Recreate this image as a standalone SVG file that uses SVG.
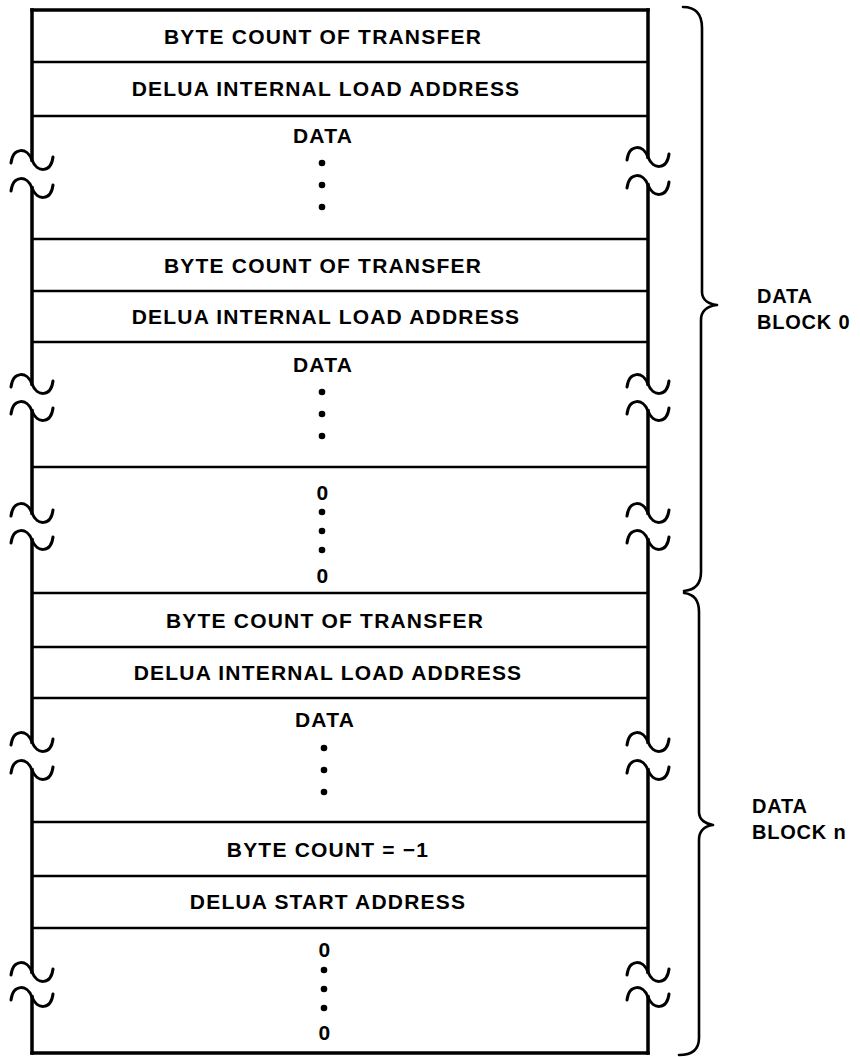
<svg xmlns="http://www.w3.org/2000/svg" width="860" height="1057" viewBox="0 0 860 1057">
<style>
.bg{fill:#fff}
.t{font-family:"Liberation Sans",Arial,Helvetica,sans-serif;font-weight:bold;font-size:21px;letter-spacing:1.2px;fill:#000;text-anchor:middle}
.lbl{font-family:"Liberation Sans",Arial,Helvetica,sans-serif;font-weight:bold;font-size:20px;letter-spacing:0.8px;fill:#000}
.h{stroke:#000;stroke-width:2.3;fill:none}
.w{stroke:#000;stroke-width:3.5;fill:none;stroke-linecap:square}
.tl{stroke:#000;stroke-width:3;fill:none;stroke-linecap:round}
.br{stroke:#000;stroke-width:2.6;fill:none;stroke-linecap:round;stroke-linejoin:round}
.d{fill:#000}
</style>
<defs>
<path id="tilde" d="M -21,3 C -19,-13 -5,-13 0,0 C 5,13 19,13 21,-3"/>
</defs>
<rect class="bg" x="0" y="0" width="860" height="1057"/>

<g id="frame">
<line class="w" x1="32" y1="10" x2="648" y2="10"/>
<line class="w" x1="32" y1="1053" x2="648" y2="1053"/>
<path class="w" d="M32,10 V160 M32,188 V384 M32,411 V513 M32,540 V742 M32,770 V972 M32,997 V1053"/>
<path class="w" d="M648,10 V157 M648,185 V384 M648,411 V513 M648,540 V742 M648,770 V972 M648,997 V1053"/>
<g class="tl">
<use href="#tilde" x="32" y="160"/><use href="#tilde" x="32" y="188"/>
<use href="#tilde" x="32" y="384"/><use href="#tilde" x="32" y="411"/>
<use href="#tilde" x="32" y="513"/><use href="#tilde" x="32" y="540"/>
<use href="#tilde" x="32" y="742"/><use href="#tilde" x="32" y="770"/>
<use href="#tilde" x="32" y="972"/><use href="#tilde" x="32" y="997"/>
<use href="#tilde" x="648" y="157"/><use href="#tilde" x="648" y="185"/>
<use href="#tilde" x="648" y="384"/><use href="#tilde" x="648" y="411"/>
<use href="#tilde" x="648" y="513"/><use href="#tilde" x="648" y="540"/>
<use href="#tilde" x="648" y="742"/><use href="#tilde" x="648" y="770"/>
<use href="#tilde" x="648" y="972"/><use href="#tilde" x="648" y="997"/>
</g>
</g>

<g id="dividers">
<line class="h" x1="32" y1="62" x2="648" y2="62"/>
<line class="h" x1="32" y1="116" x2="648" y2="116"/>
<line class="h" x1="32" y1="239" x2="648" y2="239"/>
<line class="h" x1="32" y1="291" x2="648" y2="291"/>
<line class="h" x1="32" y1="342" x2="648" y2="342"/>
<line class="h" x1="32" y1="467" x2="648" y2="467"/>
<line class="h" x1="32" y1="593" x2="648" y2="593"/>
<line class="h" x1="32" y1="647" x2="648" y2="647"/>
<line class="h" x1="32" y1="698" x2="648" y2="698"/>
<line class="h" x1="32" y1="822" x2="648" y2="822"/>
<line class="h" x1="32" y1="876" x2="648" y2="876"/>
<line class="h" x1="32" y1="928" x2="648" y2="928"/>
</g>

<g id="row1"><text class="t" x="323" y="44">BYTE COUNT OF TRANSFER</text></g>
<g id="row2"><text class="t" x="326" y="96">DELUA INTERNAL LOAD ADDRESS</text></g>
<g id="row3"><text class="t" x="323" y="143">DATA</text>
<circle class="d" cx="322" cy="163" r="3.3"/><circle class="d" cx="322" cy="185" r="3.3"/><circle class="d" cx="322" cy="207" r="3.3"/></g>
<g id="row4"><text class="t" x="323" y="273">BYTE COUNT OF TRANSFER</text></g>
<g id="row5"><text class="t" x="326" y="324">DELUA INTERNAL LOAD ADDRESS</text></g>
<g id="row6"><text class="t" x="323" y="372">DATA</text>
<circle class="d" cx="322" cy="392" r="3.3"/><circle class="d" cx="322" cy="414" r="3.3"/><circle class="d" cx="322" cy="436" r="3.3"/></g>
<g id="row7"><text class="t" x="323" y="500">0</text>
<circle class="d" cx="322" cy="512" r="3.3"/><circle class="d" cx="322" cy="531" r="3.3"/><circle class="d" cx="322" cy="550" r="3.3"/>
<text class="t" x="323" y="583">0</text></g>
<g id="row8"><text class="t" x="325" y="628">BYTE COUNT OF TRANSFER</text></g>
<g id="row9"><text class="t" x="328" y="680">DELUA INTERNAL LOAD ADDRESS</text></g>
<g id="row10"><text class="t" x="325" y="727">DATA</text>
<circle class="d" cx="324" cy="748" r="3.3"/><circle class="d" cx="324" cy="770" r="3.3"/><circle class="d" cx="324" cy="792" r="3.3"/></g>
<g id="row11"><text class="t" x="328" y="857">BYTE COUNT = −1</text></g>
<g id="row12"><text class="t" x="328" y="909">DELUA START ADDRESS</text></g>
<g id="row13"><text class="t" x="325" y="957">0</text>
<circle class="d" cx="324" cy="970" r="3.3"/><circle class="d" cx="324" cy="989" r="3.3"/><circle class="d" cx="324" cy="1008" r="3.3"/>
<text class="t" x="325" y="1040">0</text></g>

<g id="connectors">
<path class="br" d="M683,7 C696,7 702,14 702,28 L702,292 C702,300 709,304 717,305 C709,306 701,310 701,320 L701,572 C701,584 695,590 684,591"/>
<path class="br" d="M684,593 C694,594 699,600 699,612 L699,812 C699,820 706,824 713,825 C706,826 699,830 699,840 L699,1038 C699,1050 692,1055 679,1055"/>
</g>

<g id="block0"><text class="lbl" x="757" y="303">DATA</text><text class="lbl" x="757" y="329">BLOCK 0</text></g>
<g id="blockn"><text class="lbl" x="752" y="813">DATA</text><text class="lbl" x="752" y="839">BLOCK n</text></g>
</svg>
